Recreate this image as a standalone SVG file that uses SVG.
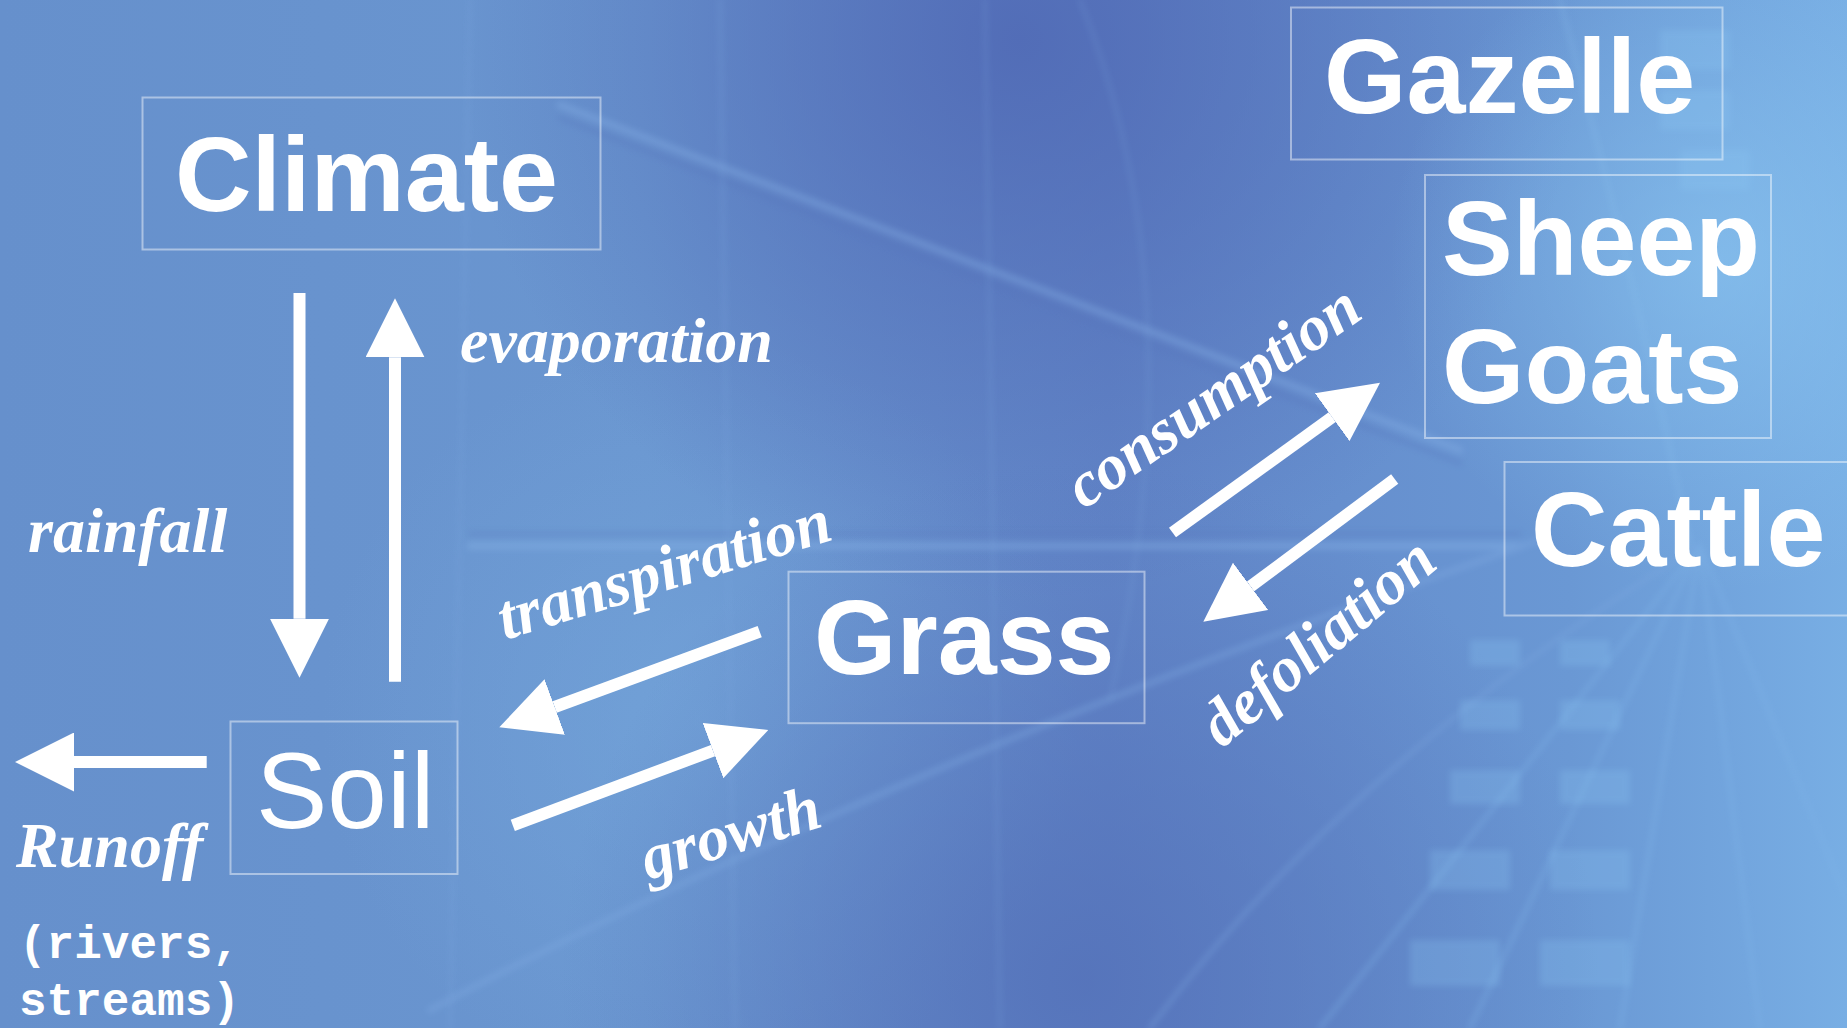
<svg xmlns="http://www.w3.org/2000/svg" width="1847" height="1028" viewBox="0 0 1847 1028">
  <defs>
    <linearGradient id="bgLin" x1="0" y1="0" x2="1" y2="0">
      <stop offset="0" stop-color="#6690cc"/>
      <stop offset="0.35" stop-color="#6a96d0"/>
      <stop offset="0.6" stop-color="#6286c8"/>
      <stop offset="0.85" stop-color="#6a98d4"/>
      <stop offset="1" stop-color="#78aee4"/>
    </linearGradient>
    <radialGradient id="darkTop" cx="1020" cy="40" r="560" gradientUnits="userSpaceOnUse">
      <stop offset="0" stop-color="#4f68b4" stop-opacity="0.85"/>
      <stop offset="1" stop-color="#4f68b4" stop-opacity="0"/>
    </radialGradient>
    <radialGradient id="darkBottom" cx="1080" cy="980" r="520" gradientUnits="userSpaceOnUse">
      <stop offset="0" stop-color="#5370b8" stop-opacity="0.8"/>
      <stop offset="1" stop-color="#5370b8" stop-opacity="0"/>
    </radialGradient>
    <radialGradient id="lightRight" cx="1720" cy="260" r="330" gradientUnits="userSpaceOnUse">
      <stop offset="0" stop-color="#8cc8f2" stop-opacity="0.6"/>
      <stop offset="1" stop-color="#8cc8f2" stop-opacity="0"/>
    </radialGradient>
    <radialGradient id="lightCenter" cx="700" cy="720" r="380" gradientUnits="userSpaceOnUse">
      <stop offset="0" stop-color="#76a8dc" stop-opacity="0.6"/>
      <stop offset="1" stop-color="#76a8dc" stop-opacity="0"/>
    </radialGradient>
    <filter id="soft" x="-5%" y="-5%" width="110%" height="110%">
      <feGaussianBlur stdDeviation="3"/>
    </filter>
    <marker id="head" viewBox="0 0 59 59" markerWidth="59" markerHeight="59" markerUnits="userSpaceOnUse" refX="0" refY="29.5" orient="auto">
      <path d="M0,0 L59,29.5 L0,59 Z" fill="#ffffff"/>
    </marker>
    <style>
      .box { fill: none; stroke: #ffffff; stroke-opacity: 0.45; stroke-width: 2; }
      .node { fill: #ffffff; font-family: "Liberation Sans", Arial, sans-serif; font-weight: bold; font-size: 106px; }
      .node-regular { fill: #ffffff; font-family: "Liberation Sans", Arial, sans-serif; font-weight: normal; font-size: 107px; }
      .label { fill: #ffffff; font-family: "Liberation Serif", "Times New Roman", serif; font-weight: bold; font-style: italic; font-size: 64px; }
      .mono { fill: #ffffff; font-family: "Liberation Mono", "Courier New", monospace; font-weight: bold; font-size: 46px; }
      .arrow { stroke: #ffffff; stroke-width: 12; fill: none; marker-end: url(#head); }
      .tex { fill: none; stroke-linecap: round; }
    </style>
  </defs>

  <g id="background">
    <rect x="0" y="0" width="1847" height="1028" fill="url(#bgLin)"/>
    <rect x="0" y="0" width="1847" height="1028" fill="url(#lightCenter)"/>
    <rect x="0" y="0" width="1847" height="1028" fill="url(#darkTop)"/>
    <rect x="0" y="0" width="1847" height="1028" fill="url(#darkBottom)"/>
    <rect x="0" y="0" width="1847" height="1028" fill="url(#lightRight)"/>
    <g filter="url(#soft)" opacity="0.4">
      <line class="tex" x1="560" y1="105" x2="1460" y2="450" stroke="#86b0e6" stroke-width="7"/>
      <line class="tex" x1="560" y1="118" x2="1460" y2="463" stroke="#5676bc" stroke-width="4"/>
      <line class="tex" x1="470" y1="546" x2="1520" y2="546" stroke="#88b4e8" stroke-width="7"/>
      <line class="tex" x1="470" y1="534" x2="1520" y2="534" stroke="#5a7cc0" stroke-width="4"/>
      <path class="tex" d="M430,1010 Q900,760 1540,540" stroke="#80aae2" stroke-width="6"/>
      <path class="tex" d="M1150,1028 Q1350,760 1700,545" stroke="#7ea8e0" stroke-width="4"/>
      <path class="tex" d="M1700,545 L1320,1028 M1700,545 L1470,1028 M1700,545 L1620,1028 M1700,545 L1760,1028 M1700,545 L1847,900" stroke="#80b4e8" stroke-width="4"/>
    </g>
    <g filter="url(#soft)" opacity="0.22">
      <line class="tex" x1="470" y1="0" x2="450" y2="1028" stroke="#7ca6de" stroke-width="5"/>
      <line class="tex" x1="720" y1="0" x2="735" y2="1028" stroke="#7ca6de" stroke-width="5"/>
      <line class="tex" x1="985" y1="0" x2="1000" y2="1028" stroke="#7ca6de" stroke-width="4"/>
      <path class="tex" d="M1080,0 Q1200,300 1110,700" stroke="#7aa4dc" stroke-width="4"/>
      <path class="tex" d="M1560,0 Q1640,300 1690,545" stroke="#8ec2ee" stroke-width="5"/>
    </g>
    <g filter="url(#soft)" opacity="0.25" fill="#8cc6f2">
      <rect x="1660" y="30" width="70" height="40"/>
      <rect x="1660" y="90" width="70" height="40"/>
      <rect x="1680" y="150" width="70" height="40"/>
      <rect x="1470" y="640" width="50" height="26"/>
      <rect x="1560" y="640" width="50" height="26"/>
      <rect x="1460" y="700" width="60" height="30"/>
      <rect x="1560" y="700" width="60" height="30"/>
      <rect x="1450" y="770" width="70" height="34"/>
      <rect x="1560" y="770" width="70" height="34"/>
      <rect x="1430" y="850" width="80" height="40"/>
      <rect x="1550" y="850" width="80" height="40"/>
      <rect x="1410" y="940" width="90" height="46"/>
      <rect x="1540" y="940" width="90" height="46"/>
    </g>
  </g>

  <g id="connectors">
    <line id="rainfall-arrow" class="arrow" x1="299.5" y1="293" x2="299.5" y2="618.7"/>
    <line id="evaporation-arrow" class="arrow" x1="395" y1="681.7" x2="395" y2="357.3"/>
    <line id="runoff-arrow" class="arrow" x1="206.7" y1="762" x2="74" y2="762"/>
    <line id="transpiration-arrow" class="arrow" x1="759.7" y1="631.7" x2="554.7" y2="707"/>
    <line id="growth-arrow" class="arrow" x1="512.8" y1="825.3" x2="713" y2="750.6"/>
    <line id="consumption-arrow" class="arrow" x1="1172.5" y1="532.5" x2="1332.2" y2="417.2"/>
    <line id="defoliation-arrow" class="arrow" x1="1394.7" y1="479" x2="1250.6" y2="586.4"/>
  </g>

  <g id="labels">
    <text class="label" x="460" y="361.5">evaporation</text>
    <text class="label" x="28" y="551.5">rainfall</text>
    <text class="label" x="16" y="866.7" font-size="67">Runoff</text>
    <text class="mono" x="19" y="958.3">(rivers,</text>
    <text class="mono" x="19" y="1015">streams)</text>
    <text class="label" transform="translate(505 640) rotate(-17)">transpiration</text>
    <text class="label" transform="translate(648 880) rotate(-17)">growth</text>
    <text class="label" transform="translate(1084 510) rotate(-34.5)">consumption</text>
    <text class="label" transform="translate(1222 749) rotate(-40)">defoliation</text>
  </g>

  <g id="node-climate">
    <rect class="box" x="142.5" y="97.5" width="458" height="152"/>
    <text class="node" x="175" y="211">Climate</text>
  </g>
  <g id="node-gazelle">
    <rect class="box" x="1291" y="7.5" width="431.5" height="152"/>
    <text class="node" x="1324" y="112.8">Gazelle</text>
  </g>
  <g id="node-sheep-goats">
    <rect class="box" x="1425" y="175" width="346" height="263"/>
    <text class="node" x="1442" y="275.3">Sheep</text>
    <text class="node" x="1442" y="403">Goats</text>
  </g>
  <g id="node-cattle">
    <rect class="box" x="1504.5" y="462" width="360" height="153.5"/>
    <text class="node" x="1531" y="566.3">Cattle</text>
  </g>
  <g id="node-grass">
    <rect class="box" x="788.5" y="571.7" width="356" height="151.5"/>
    <text class="node" x="814" y="674">Grass</text>
  </g>
  <g id="node-soil">
    <rect class="box" x="230.5" y="721.5" width="227" height="152.5"/>
    <text class="node-regular" x="256" y="828.3">Soil</text>
  </g>
</svg>
